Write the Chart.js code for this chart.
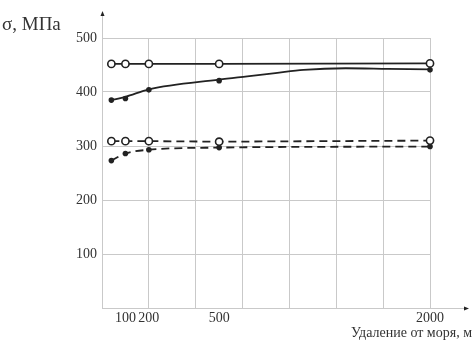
<!DOCTYPE html>
<html>
<head>
<meta charset="utf-8">
<script src="https://cdn.jsdelivr.net/npm/chart.js@4.4.1/dist/chart.umd.min.js"></script>
<style>
    html, body { margin: 0; padding: 0; background: #fff; }
    canvas { display: block; }
</style>
</head>
<body>
<canvas id="chart" width="473" height="347"></canvas>
<script>
// distance from the sea, m
const distances = [40, 100, 200, 500, 2000];
// open circles, solid line
const seriesA = [452, 452, 452, 452, 453];
// filled dots (solid fitted curve below)
const seriesB = [385, 388, 404, 421, 441];
// open circles, dashed line
const seriesC = [309, 309, 309, 308, 310];
// filled dots, dashed line
const seriesD = [273, 286, 293, 297, 299];
// fitted solid curve through seriesB
const curveBDist = [40, 100, 200, 500, 700, 900, 1100, 1400, 1700, 2000];
const curveBVals = [385, 391, 405, 423, 429, 435, 441, 444, 443, 442];
const xTickLabels = [100, 200, 500, 2000];
const yTicks = [100, 200, 300, 400, 500];

// the x axis of the original is broken: piecewise linear between these breaks
const axisBreaks = [0, 200, 500, 2000];
const axisUnits = [0, 1, 2.5, 7];

function toAxis(d) {
    for (let i = 1; i < axisBreaks.length; i++) {
        if (d <= axisBreaks[i]) {
            const t = (d - axisBreaks[i - 1]) / (axisBreaks[i] - axisBreaks[i - 1]);
            return axisUnits[i - 1] + t * (axisUnits[i] - axisUnits[i - 1]);
        }
    }
    return axisUnits[axisUnits.length - 1];
}

function points(values, dist) {
    dist = dist || distances;
    return values.map((v, i) => ({ x: toAxis(dist[i]), y: v }));
}

const ink = '#222';
const gridColor = '#c9c9c9';
const serif = "'Liberation Serif', 'Times New Roman', serif";

const labelAt = {};
xTickLabels.forEach(d => { labelAt[toAxis(d)] = String(d); });

const axisDecor = {
    id: 'axisDecor',
    afterDraw(chart) {
        const ctx = chart.ctx;
        const x = chart.scales.x;
        const y = chart.scales.y;
        const x0 = x.getPixelForValue(0);
        const y0 = y.getPixelForValue(0);
        ctx.save();
        ctx.strokeStyle = gridColor;
        ctx.lineWidth = 1;
        ctx.beginPath();
        ctx.moveTo(x0 + 0.5, y0);
        ctx.lineTo(x0 + 0.5, 14);
        ctx.moveTo(x0, y0 + 0.5);
        ctx.lineTo(466, y0 + 0.5);
        ctx.stroke();
        ctx.fillStyle = ink;
        ctx.beginPath();
        ctx.moveTo(x0 + 0.5, 11);
        ctx.lineTo(x0 - 1.5, 16);
        ctx.lineTo(x0 + 2.5, 16);
        ctx.fill();
        ctx.beginPath();
        ctx.moveTo(469, y0 + 0.5);
        ctx.lineTo(464, y0 - 1.5);
        ctx.lineTo(464, y0 + 2.5);
        ctx.fill();

        ctx.fillStyle = '#333';
        ctx.textBaseline = 'alphabetic';
        ctx.font = '19px ' + serif;
        ctx.textAlign = 'left';
        ctx.fillText('σ, МПа', 2, 30);
        ctx.textBaseline = 'middle';
        ctx.font = '14px ' + serif;
        ctx.textAlign = 'right';
        ctx.fillText('Удаление от моря, м', 472, 333);
        ctx.restore();
    }
};

new Chart(document.getElementById('chart'), {
    type: 'line',
    data: {
        datasets: [
            {
                data: points(seriesA),
                borderColor: ink,
                borderWidth: 1.8,
                tension: 0,
                pointRadius: 3.6,
                pointBorderWidth: 1.6,
                pointBackgroundColor: '#fff',
                pointBorderColor: ink,
                clip: false
            },
            {
                data: points(seriesB),
                showLine: false,
                pointRadius: 2.8,
                pointBorderWidth: 0,
                pointBackgroundColor: ink,
                clip: false
            },
            {
                data: points(curveBVals, curveBDist),
                borderColor: ink,
                borderWidth: 1.8,
                tension: 0.4,
                cubicInterpolationMode: 'monotone',
                pointRadius: 0,
                clip: false
            },
            {
                data: points(seriesC),
                borderColor: ink,
                borderWidth: 1.8,
                borderDash: [8, 5],
                tension: 0,
                pointRadius: 3.6,
                pointBorderWidth: 1.6,
                pointBackgroundColor: '#fff',
                pointBorderColor: ink,
                clip: false
            },
            {
                data: points(seriesD),
                borderColor: ink,
                borderWidth: 1.8,
                borderDash: [8, 5],
                tension: 0.4,
                cubicInterpolationMode: 'monotone',
                pointRadius: 2.8,
                pointBorderWidth: 0,
                pointBackgroundColor: ink,
                clip: false
            }
        ]
    },
    options: {
        responsive: false,
        animation: false,
        layout: { padding: { top: 38, right: 43, left: 0, bottom: 0 } },
        plugins: {
            legend: { display: false },
            tooltip: { enabled: false }
        },
        scales: {
            x: {
                type: 'linear',
                min: 0,
                max: 7,
                afterBuildTicks(scale) {
                    const vals = [0, 0.5, 1, 2, 2.5, 3, 4, 5, 6, 7];
                    scale.ticks = vals.map(v => ({ value: v }));
                },
                afterFit(scale) { scale.height = 39; },
                border: { display: false },
                grid: {
                    drawTicks: false,
                    color: c => (c.tick && Number.isInteger(c.tick.value) && c.tick.value > 0) ? gridColor : 'rgba(0,0,0,0)'
                },
                ticks: {
                    autoSkip: false,
                    maxRotation: 0,
                    padding: 2,
                    color: '#333',
                    font: { family: serif, size: 14 },
                    callback: v => labelAt[v] || ''
                }
            },
            y: {
                min: 0,
                max: 500,
                afterBuildTicks(scale) {
                    scale.ticks = [0].concat(yTicks).map(v => ({ value: v }));
                },
                afterFit(scale) { scale.width = 102; },
                border: { display: false },
                grid: {
                    drawTicks: false,
                    color: c => (c.tick && c.tick.value > 0) ? gridColor : 'rgba(0,0,0,0)'
                },
                ticks: {
                    padding: 5,
                    color: '#333',
                    font: { family: serif, size: 14 },
                    callback: v => (v > 0 ? String(v) : '')
                }
            }
        }
    },
    plugins: [axisDecor]
});
</script>
</body>
</html>
